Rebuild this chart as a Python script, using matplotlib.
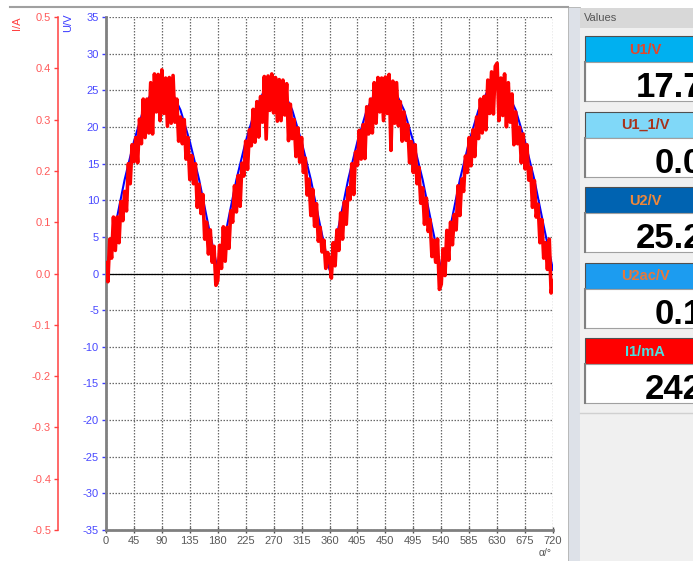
import numpy as np
import matplotlib
matplotlib.use("Agg")
import matplotlib.pyplot as plt
from matplotlib.patches import Rectangle

plt.rcParams['font.family'] = ['Liberation Sans', 'DejaVu Sans']
plt.rcParams['axes.unicode_minus'] = False

# voltage U (blue), sampled every 15 degrees
u_angle = np.arange(0, 721, 15)
u_volt = [0.5, 6.5, 12.8, 18.0, 22.3, 25.0, 26.0, 25.0, 22.3, 18.0, 12.8, 6.5,
          0.5, 6.5, 12.8, 18.0, 22.3, 25.0, 26.0, 25.0, 22.3, 18.0, 12.8, 6.5,
          0.5, 6.5, 12.8, 18.0, 22.3, 25.0, 26.0, 25.0, 22.3, 18.0, 12.8, 6.5,
          0.5, 6.5, 12.8, 18.0, 22.3, 25.0, 26.0, 25.0, 22.3, 18.0, 12.8, 6.5,
          0.5]

# current I (red, noisy), sampled every 3 degrees
i_angle = np.arange(0, 721, 3)
i_amp = [
    0.021, -0.016, 0.067, 0.030, 0.110, 0.045, 0.110, 0.060, 0.140, 0.103,
    0.160, 0.122, 0.214, 0.175, 0.251, 0.218, 0.265, 0.216, 0.301, 0.253,
    0.340, 0.265, 0.340, 0.274, 0.372, 0.272, 0.389, 0.315, 0.388, 0.298,
    0.397, 0.312, 0.381, 0.287, 0.382, 0.293, 0.386, 0.295, 0.340, 0.258,
    0.305, 0.253, 0.300, 0.223, 0.265, 0.183, 0.230, 0.175, 0.214, 0.129,
    0.174, 0.117, 0.154, 0.067, 0.100, 0.038, 0.085, 0.022, 0.053, -0.023,
    -0.014, 0.055, 0.010, 0.091, 0.024, 0.090, 0.049, 0.122, 0.100, 0.171,
    0.120, 0.191, 0.131, 0.215, 0.190, 0.258, 0.203, 0.280, 0.249, 0.320,
    0.256, 0.335, 0.266, 0.345, 0.295, 0.384, 0.262, 0.385, 0.318, 0.389,
    0.313, 0.382, 0.297, 0.378, 0.298, 0.377, 0.309, 0.370, 0.259, 0.330,
    0.263, 0.300, 0.228, 0.284, 0.217, 0.265, 0.197, 0.225, 0.153, 0.184,
    0.113, 0.164, 0.092, 0.136, 0.063, 0.090, 0.042, 0.065, 0.010, 0.041,
    0.029, -0.009, 0.060, 0.015, 0.085, 0.045, 0.118, 0.067, 0.140, 0.096,
    0.167, 0.144, 0.214, 0.154, 0.237, 0.211, 0.279, 0.223, 0.290, 0.224,
    0.325, 0.272, 0.340, 0.274, 0.372, 0.293, 0.382, 0.315, 0.381, 0.298,
    0.383, 0.312, 0.388, 0.240, 0.375, 0.293, 0.372, 0.288, 0.335, 0.258,
    0.315, 0.260, 0.290, 0.216, 0.257, 0.197, 0.251, 0.175, 0.207, 0.137,
    0.167, 0.096, 0.147, 0.082, 0.105, 0.033, 0.065, 0.022, 0.067, -0.031,
    -0.021, 0.048, -0.004, 0.084, 0.026, 0.100, 0.056, 0.115, 0.085, 0.171,
    0.113, 0.184, 0.160, 0.229, 0.197, 0.265, 0.210, 0.280, 0.228, 0.305,
    0.263, 0.340, 0.274, 0.345, 0.280, 0.377, 0.312, 0.393, 0.311, 0.404,
    0.410, 0.298, 0.381, 0.308, 0.389, 0.286, 0.372, 0.295, 0.350, 0.251,
    0.315, 0.253, 0.285, 0.216, 0.272, 0.204, 0.251, 0.182, 0.207, 0.129,
    0.181, 0.110, 0.135, 0.060, 0.105, 0.030, 0.060, 0.008, 0.067, -0.038,
    -0.014]

x_ticks = np.arange(0, 721, 45)
u_ticks = np.arange(-35, 36, 5)
i_ticks = np.round(np.arange(-0.5, 0.51, 0.1), 1)

# side panel
box_names = ['U1/V', 'U1_1/V', 'U2/V', 'U2ac/V', 'I1/mA']
box_values = ['17.7', '0.0', '25.2', '0.1', '242']
box_colors = ['#00b0f0', '#80d8f8', '#0063b1', '#1c9cf0', '#ff0000']
box_text_colors = ['#e4462a', '#a8321a', '#f0883a', '#e8783a', '#48e0e0']

W, H = 693, 561
fig = plt.figure(figsize=(W / 100, H / 100), dpi=100)

bg = fig.add_axes([0, 0, 1, 1])
bg.set_xlim(0, W)
bg.set_ylim(H, 0)
bg.axis('off')
bg.set_zorder(-1)

bg.plot([10, 568], [7, 7], color='#a0a0a0', lw=1.5)
bg.add_patch(Rectangle((568, 7), 12, H, fc='#dde1e8', ec='#b0b0b0', lw=0.6))
bg.add_patch(Rectangle((580, 8), 120, 20, fc='#d8d8d8', ec='none'))
bg.add_patch(Rectangle((580, 28), 120, H, fc='#f0f0f0', ec='none'))
bg.text(584, 18, 'Values', fontsize=8, color='#555555', va='center', ha='left')
bg.plot([580, 700], [413, 413], color='#d0d0d0', lw=1)

top = 36
for name, val, fc, tc in zip(box_names, box_values, box_colors, box_text_colors):
    bg.add_patch(Rectangle((585, top), 130, 26, fc=fc, ec='#505050', lw=0.8))
    bg.add_patch(Rectangle((585, top + 26), 130, 39, fc='white', ec='#a0a0a0', lw=0.8))
    bg.plot([585, 585], [top + 26, top + 65], color='#808080', lw=1.5)
    bg.text(645, top + 17.5, name, fontsize=10.5, fontweight='bold', color=tc,
            ha='center', va='baseline')
    bg.text(703, top + 61, val, fontsize=25, fontweight='bold', color='black',
            ha='right', va='baseline')
    top += 75.5

bg.text(17, 23, 'I/A', rotation=90, color='#ff4040', fontsize=8, ha='center', va='center')
bg.text(68, 23, 'U/V', rotation=90, color='#3c3cff', fontsize=8, ha='center', va='center')
bg.text(545, 553, 'α/°', color='#555555', fontsize=7.5, ha='center', va='center')

ax = fig.add_axes([106 / W, 31 / H, 447 / W, 513 / H])
ax.set_facecolor('white')
ax.set_xlim(0, 720)
ax.set_ylim(-35, 35)
ax.set_xticks(x_ticks)
ax.set_yticks(u_ticks)
ax.grid(True, color='#6a6a6a', lw=0.9, linestyle=(0, (1.2, 1.2)))
ax.set_axisbelow(True)
for s in ['top', 'right']:
    ax.spines[s].set_visible(False)
for s in ['left', 'bottom']:
    ax.spines[s].set_color('#808080')
    ax.spines[s].set_linewidth(2)
ax.tick_params(axis='y', direction='out', length=3, width=1, color='#3c3cff',
               labelcolor='#4848ff', labelsize=8, pad=2)
ax.tick_params(axis='x', direction='inout', length=5, width=1, color='#505050',
               labelcolor='#585858', labelsize=8, pad=2)
ax.axhline(0, color='black', lw=0.9, zorder=2)
ax.plot(u_angle, u_volt, color='#0000ff', lw=1.5, zorder=3)

ax2 = ax.twinx()
ax2.set_ylim(-0.5, 0.5)
ax2.set_yticks(i_ticks)
ax2.set_yticklabels(['%.1f' % abs(v) if v == 0 else '%.1f' % v for v in i_ticks])
ax2.yaxis.tick_left()
for s in ['top', 'right', 'bottom']:
    ax2.spines[s].set_visible(False)
ax2.spines['left'].set_position(('axes', -48 / 447))
ax2.spines['left'].set_color('#ff4040')
ax2.spines['left'].set_linewidth(1.1)
ax2.tick_params(axis='y', direction='out', length=3, width=1, color='#ff4040',
                labelcolor='#ff5a5a', labelsize=8, pad=2)
ax2.plot(i_angle, i_amp, color='#ff0000', lw=2.6, zorder=4)

fig.savefig('out.png', dpi=100)
